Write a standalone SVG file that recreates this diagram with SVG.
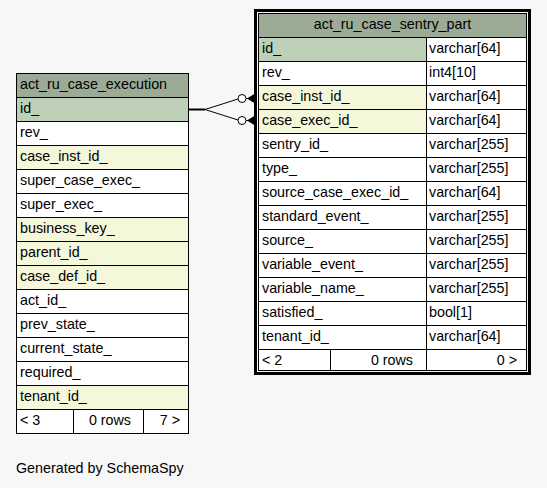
<svg xmlns="http://www.w3.org/2000/svg" width="547" height="488" viewBox="0 0 547 488">
  <style>
    text { font-family: "Liberation Sans", Arial, sans-serif; font-size: 14.3px; fill: #000; }
    .cell { stroke: #000; stroke-width: 1; }
    .hdr { fill: #9bab96; }
    .pk { fill: #bed1b8; }
    .fk { fill: #f4f7da; }
    .plain { fill: #ffffff; }
    .end { text-anchor: end; }
    .mid { text-anchor: middle; }
    .edge { fill: none; stroke: #000; stroke-width: 1; }
  </style>
  <rect x="0" y="0" width="547" height="488" fill="#f7f7f7"/>

  <!-- table: act_ru_case_execution -->
  <g id="act_ru_case_execution">
    <rect class="cell hdr" x="16.5" y="73.5" width="172" height="24"/>
    <text x="20" y="89">act_ru_case_execution</text>
    <rect class="cell pk" x="16.5" y="97.5" width="172" height="24"/>
    <text x="20" y="113">id_</text>
    <rect class="cell plain" x="16.5" y="121.5" width="172" height="24"/>
    <text x="20" y="137">rev_</text>
    <rect class="cell fk" x="16.5" y="145.5" width="172" height="24"/>
    <text x="20" y="161">case_inst_id_</text>
    <rect class="cell plain" x="16.5" y="169.5" width="172" height="24"/>
    <text x="20" y="185">super_case_exec_</text>
    <rect class="cell plain" x="16.5" y="193.5" width="172" height="24"/>
    <text x="20" y="209">super_exec_</text>
    <rect class="cell fk" x="16.5" y="217.5" width="172" height="24"/>
    <text x="20" y="233">business_key_</text>
    <rect class="cell fk" x="16.5" y="241.5" width="172" height="24"/>
    <text x="20" y="257">parent_id_</text>
    <rect class="cell fk" x="16.5" y="265.5" width="172" height="24"/>
    <text x="20" y="281">case_def_id_</text>
    <rect class="cell plain" x="16.5" y="289.5" width="172" height="24"/>
    <text x="20" y="305">act_id_</text>
    <rect class="cell plain" x="16.5" y="313.5" width="172" height="24"/>
    <text x="20" y="329">prev_state_</text>
    <rect class="cell plain" x="16.5" y="337.5" width="172" height="24"/>
    <text x="20" y="353">current_state_</text>
    <rect class="cell plain" x="16.5" y="361.5" width="172" height="24"/>
    <text x="20" y="377">required_</text>
    <rect class="cell fk" x="16.5" y="385.5" width="172" height="24"/>
    <text x="20" y="401">tenant_id_</text>
    <rect class="cell plain" x="16.5" y="409.5" width="57" height="24"/>
    <rect class="cell plain" x="73.5" y="409.5" width="70" height="24"/>
    <rect class="cell plain" x="143.5" y="409.5" width="45" height="24"/>
    <text x="20" y="425">&lt; 3</text>
    <text class="end" x="131" y="425">0 rows</text>
    <text class="end" x="180" y="425">7 &gt;</text>
  </g>

  <!-- table: act_ru_case_sentry_part -->
  <g id="act_ru_case_sentry_part">
    <rect x="255.5" y="10.5" width="274" height="363" fill="none" stroke="#000" stroke-width="3"/>
    <rect x="257" y="12" width="1" height="360" fill="#ffffff"/>
    <rect class="cell hdr" x="258.5" y="13.5" width="268" height="24"/>
    <text class="mid" x="392.5" y="29">act_ru_case_sentry_part</text>

    <rect class="cell pk" x="258.5" y="37.5" width="168" height="24"/>
    <rect class="cell plain" x="426.5" y="37.5" width="100" height="24"/>
    <text x="262" y="53">id_</text><text x="429" y="53">varchar[64]</text>

    <rect class="cell plain" x="258.5" y="61.5" width="168" height="24"/>
    <rect class="cell plain" x="426.5" y="61.5" width="100" height="24"/>
    <text x="262" y="77">rev_</text><text x="429" y="77">int4[10]</text>

    <rect class="cell fk" x="258.5" y="85.5" width="168" height="24"/>
    <rect class="cell plain" x="426.5" y="85.5" width="100" height="24"/>
    <text x="262" y="101">case_inst_id_</text><text x="429" y="101">varchar[64]</text>

    <rect class="cell fk" x="258.5" y="109.5" width="168" height="24"/>
    <rect class="cell plain" x="426.5" y="109.5" width="100" height="24"/>
    <text x="262" y="125">case_exec_id_</text><text x="429" y="125">varchar[64]</text>

    <rect class="cell plain" x="258.5" y="133.5" width="168" height="24"/>
    <rect class="cell plain" x="426.5" y="133.5" width="100" height="24"/>
    <text x="262" y="149">sentry_id_</text><text x="429" y="149">varchar[255]</text>

    <rect class="cell plain" x="258.5" y="157.5" width="168" height="24"/>
    <rect class="cell plain" x="426.5" y="157.5" width="100" height="24"/>
    <text x="262" y="173">type_</text><text x="429" y="173">varchar[255]</text>

    <rect class="cell plain" x="258.5" y="181.5" width="168" height="24"/>
    <rect class="cell plain" x="426.5" y="181.5" width="100" height="24"/>
    <text x="262" y="197">source_case_exec_id_</text><text x="429" y="197">varchar[64]</text>

    <rect class="cell plain" x="258.5" y="205.5" width="168" height="24"/>
    <rect class="cell plain" x="426.5" y="205.5" width="100" height="24"/>
    <text x="262" y="221">standard_event_</text><text x="429" y="221">varchar[255]</text>

    <rect class="cell plain" x="258.5" y="229.5" width="168" height="24"/>
    <rect class="cell plain" x="426.5" y="229.5" width="100" height="24"/>
    <text x="262" y="245">source_</text><text x="429" y="245">varchar[255]</text>

    <rect class="cell plain" x="258.5" y="253.5" width="168" height="24"/>
    <rect class="cell plain" x="426.5" y="253.5" width="100" height="24"/>
    <text x="262" y="269">variable_event_</text><text x="429" y="269">varchar[255]</text>

    <rect class="cell plain" x="258.5" y="277.5" width="168" height="24"/>
    <rect class="cell plain" x="426.5" y="277.5" width="100" height="24"/>
    <text x="262" y="293">variable_name_</text><text x="429" y="293">varchar[255]</text>

    <rect class="cell plain" x="258.5" y="301.5" width="168" height="24"/>
    <rect class="cell plain" x="426.5" y="301.5" width="100" height="24"/>
    <text x="262" y="317">satisfied_</text><text x="429" y="317">bool[1]</text>

    <rect class="cell plain" x="258.5" y="325.5" width="168" height="24"/>
    <rect class="cell plain" x="426.5" y="325.5" width="100" height="24"/>
    <text x="262" y="341">tenant_id_</text><text x="429" y="341">varchar[64]</text>

    <rect class="cell plain" x="258.5" y="349.5" width="72" height="21"/>
    <rect class="cell plain" x="330.5" y="349.5" width="96" height="21"/>
    <rect class="cell plain" x="426.5" y="349.5" width="100" height="21"/>
    <text x="262" y="365">&lt; 2</text>
    <text class="end" x="413" y="365">0 rows</text>
    <text class="end" x="517" y="365">0 &gt;</text>
  </g>

  <!-- foreign key connectors -->
  <g id="connectors">
    <line x1="189" y1="109.5" x2="205" y2="109.5" stroke="#000" stroke-width="2"/>
    <path class="edge" d="M205,109.5 L238,99"/>
    <path class="edge" d="M205,109.5 L238,120"/>
    <circle cx="242" cy="98.5" r="4" fill="#fff" stroke="#000"/>
    <circle cx="242" cy="120.5" r="4" fill="#fff" stroke="#000"/>
    <line x1="246" y1="98.5" x2="254" y2="98.5" stroke="#000"/>
    <line x1="246" y1="120.5" x2="254" y2="120.5" stroke="#000"/>
    <polygon points="247,98.5 255,93.5 255,103.5" fill="#000"/>
    <polygon points="247,120.5 255,115.5 255,125.5" fill="#000"/>
  </g>

  <text x="16" y="473">Generated by SchemaSpy</text>
</svg>
